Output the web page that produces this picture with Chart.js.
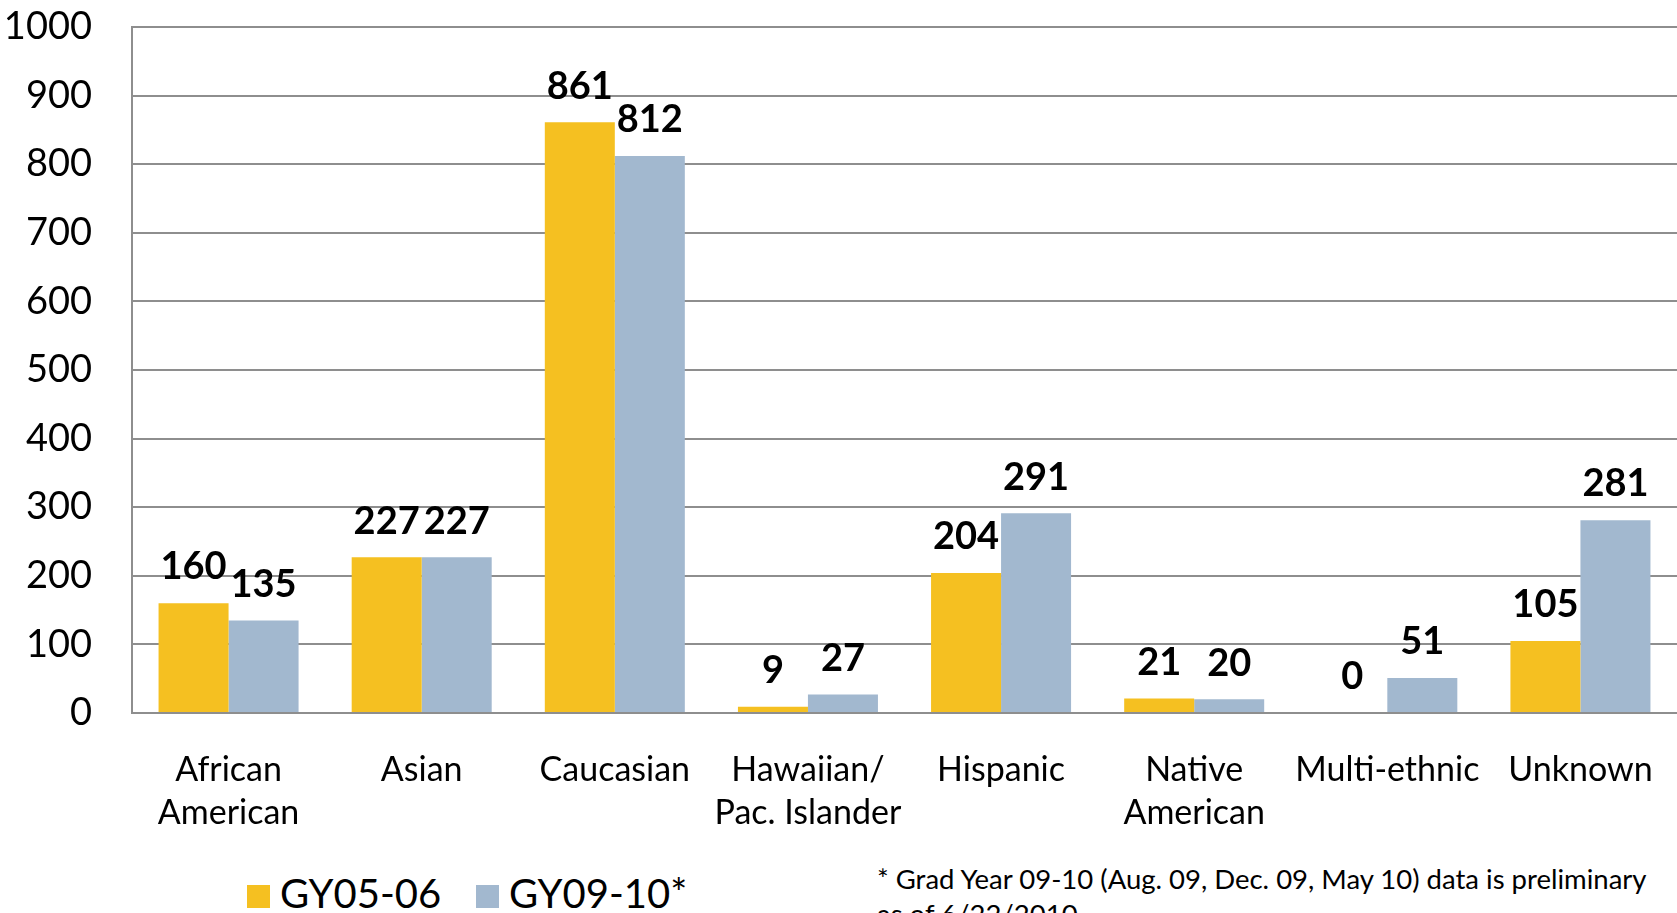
<!DOCTYPE html>
<html>
<head>
<meta charset="utf-8">
<script src="https://cdn.jsdelivr.net/npm/chart.js@4"></script>
<style>
  html, body { margin: 0; padding: 0; background: #fff; overflow: hidden; width: 1677px; height: 913px; }
  #wrap { position: absolute; left: 0; top: 0; width: 1677px; height: 850px; }
  .leg { position: absolute; top: 862px; font-family: Lato, sans-serif; font-size: 40px; color: #000; white-space: nowrap; line-height: 46px; }
  .leg span.box { position: absolute; left: 0; top: 23px; width: 23px; height: 23px; }
  .leg span.txt { position: absolute; left: 33px; top: 8px; }
  #note { position: absolute; left: 877px; top: 861px; font-family: Lato, sans-serif; font-size: 27.5px; line-height: 35px; color: #000; white-space: nowrap; }
</style>
</head>
<body>
<div id="wrap"><canvas id="myChart"></canvas></div>
<div class="leg" style="left:247px"><span class="box" style="background:#F5C021"></span><span class="txt">GY05-06</span></div>
<div class="leg" style="left:476px"><span class="box" style="background:#A2B8CF"></span><span class="txt">GY09-10*</span></div>
<div id="note">* Grad Year 09-10 (Aug. 09, Dec. 09, May 10) data is preliminary<br>as of 6/22/2010</div>
<script>
// categorias e valores
const categorias = [['African', 'American'], 'Asian', 'Caucasian', ['Hawaiian/', 'Pac. Islander'], 'Hispanic', ['Native', 'American'], 'Multi-ethnic', 'Unknown']
const gy0506 = [160, 227, 861, 9, 204, 21, 0, 105]
const gy0910 = [135, 227, 812, 27, 291, 20, 51, 281]
const series = ['GY05-06', 'GY09-10*']
const cores = ['#F5C021', '#A2B8CF']

// rotulos de valor em cima das barras
const rotulos = {
    id: 'rotulos',
    afterDatasetsDraw(chart) {
        const ctx = chart.ctx
        ctx.save()
        ctx.font = 'bold 38px Lato'
        ctx.fillStyle = '#000'
        ctx.textAlign = 'center'
        ctx.textBaseline = 'bottom'
        chart.data.datasets.forEach((ds, i) => {
            chart.getDatasetMeta(i).data.forEach((bar, j) => {
                ctx.fillText(ds.data[j], bar.x, bar.y - 17)
            })
        })
        ctx.restore()
    }
}

const ctx = document.getElementById('myChart')
new Chart(ctx, {
    type: 'bar',
    data: {
        labels: categorias,
        datasets: [
            { label: series[0], data: gy0506, backgroundColor: cores[0] },
            { label: series[1], data: gy0910, backgroundColor: cores[1] }
        ]
    },
    options: {
        responsive: true,
        maintainAspectRatio: false,
        animation: false,
        layout: { padding: { top: 27, right: 0, bottom: 0, left: 0 } },
        datasets: { bar: { categoryPercentage: 0.725, barPercentage: 1 } },
        plugins: { legend: { display: false }, tooltip: { enabled: false } },
        scales: {
            x: {
                grid: { display: false, drawTicks: false },
                border: { color: '#8e8e8e', width: 2 },
                ticks: { color: '#000', padding: 36, maxRotation: 0, autoSkip: false,
                         font: { family: 'Lato', size: 34, lineHeight: 1.25 } },
                afterFit: scale => {
                    scale.height = 137
                    scale.paddingLeft = 0
                    scale.paddingRight = 0
                }
            },
            y: {
                min: 0,
                max: 1000,
                grid: { color: '#8e8e8e', lineWidth: 2, drawTicks: false },
                border: { color: '#8e8e8e', width: 2 },
                ticks: { stepSize: 100, color: '#000', padding: 40,
                         font: { family: 'Lato', size: 38 },
                         callback: v => String(v) },
                afterFit: scale => {
                    scale.width = 132
                    scale.paddingTop = 0
                    scale.paddingBottom = 0
                }
            }
        }
    },
    plugins: [rotulos]
});
</script>
</body>
</html>
